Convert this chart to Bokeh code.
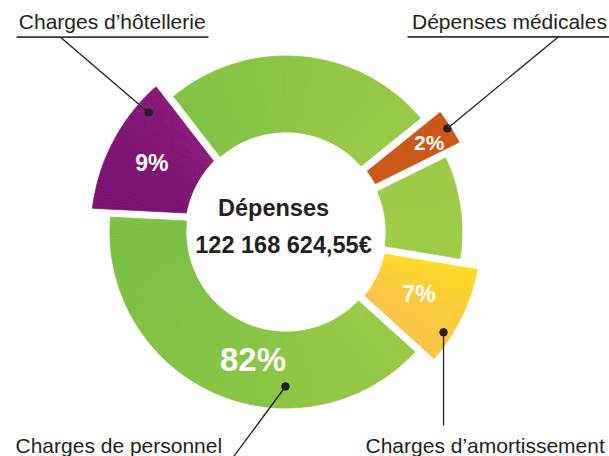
import numpy as np
from bokeh.plotting import figure
from bokeh.models import Range1d
from bokeh.embed import file_html
from bokeh.resources import INLINE
from bokeh.core.properties import value

# ---------------- data ----------------
categories = ["Charges de personnel", "Dépenses médicales",
              "Charges d’amortissement", "Charges d’hôtellerie"]
shares = [82, 2, 7, 9]                 # % of total expenses
share_labels = ["82%", "2%", "7%", "9%"]
centre_title = "Dépenses"
centre_total = "122 168 624,55€"

# ---------------- style ----------------
grad_from = ["#77bf43", "#dc661f", "#fdc24a", "#6b0a68"]
grad_to = ["#a1cc45", "#bb4610", "#fff200", "#931e7f"]
grad_dir = [0.0, 35.0, 30.0, 0.0]        # gradient direction (deg)
grad_gamma = [1.0, 1.0, 1.8, 1.0]
exploded = [False, True, True, True]
mid_angle = [None, 32.6, -25.8, 152.4]    # centre angle of the small slices
outer_flare = [None, 1.6, 2.1, 4.4]       # extra half-width at the rim (deg)
INK = "#231f20"
FONT = "Liberation Sans"
BASE_SHIFT = 0.355                        # renderer baseline correction (em)

# ---------------- layout ----------------
CX, CY = 285.5, 224.5
R_OUT, R_IN = 176.0, 100.0
X_OUT, X_IN = 195.0, 101.5
GAP = 8.0

# share label polar positions (angle, radius, font px)
share_pos = [(-104.5, 132.0, 33), (32.1, 169.0, 21), (-25.0, 146.7, 23), (152.6, 151.0, 23)]
# leader dot polar positions (angle, radius)
dot_pos = [(-90.2, 154.5), (32.7, 191.8), (-32.5, 186.8), (139.0, 182.2)]


def hex2rgb(h):
    h = h.lstrip("#")
    return np.array([int(h[i:i + 2], 16) for i in (0, 2, 4)], dtype=float)


def lerp_hex(a, b, t):
    c = hex2rgb(a) * (1 - t) + hex2rgb(b) * t
    return "#%02x%02x%02x" % tuple(int(round(v)) for v in c)


def pol(a, r):
    return np.array([CX + r * np.cos(np.radians(a)), CY + r * np.sin(np.radians(a))])


def band(o0, o1, i0, i1, r_out, r_in):
    """strips of a ring piece: outer arc o0->o1, inner arc i0->i1 (deg)"""
    n = max(2, int(np.ceil(abs(o1 - o0) / 1.0)))
    out = []
    for k in range(n):
        f0, f1 = k / n, (k + 1) / n
        oa = np.radians(np.linspace(o0 + (o1 - o0) * f0, o0 + (o1 - o0) * f1, 4))
        ia = np.radians(np.linspace(i0 + (i1 - i0) * f1, i0 + (i1 - i0) * f0, 4))
        xs = np.concatenate([CX + r_out * np.cos(oa), CX + r_in * np.cos(ia)])
        ys = np.concatenate([CY + r_out * np.sin(oa), CY + r_in * np.sin(ia)])
        out.append((xs, ys))
    return out


def edge_hit(p_in, p_out, offset, r):
    """angle where the edge line p_in->p_out, shifted by offset (ccw +), meets circle r"""
    d = (p_out - p_in) / np.linalg.norm(p_out - p_in)
    n = np.array([-d[1], d[0]])
    q = p_in + offset * n - np.array([CX, CY])
    b = q @ d
    t = -b + np.sqrt(b * b - q @ q + r * r)
    pt = q + t * d
    return np.degrees(np.arctan2(pt[1], pt[0]))


# small (exploded) slices
small = []
for i, s in enumerate(shares):
    if exploded[i]:
        hi = s * 1.8 + 0.6
        ho = s * 1.8 + outer_flare[i]
        small.append((mid_angle[i] - hi, i, hi, ho))
small.sort()

slice_polys = {i: [] for i in range(len(shares))}
edges = []
for _, i, hi, ho in small:
    m = mid_angle[i]
    slice_polys[i] += band(m - ho, m + ho, m - hi, m + hi, X_OUT, X_IN)
    start_edge = (pol(m - hi, X_IN), pol(m - ho, X_OUT))
    end_edge = (pol(m + hi, X_IN), pol(m + ho, X_OUT))
    edges.append((start_edge, end_edge))

big = [i for i in range(len(shares)) if not exploded[i]][0]
for k in range(len(edges)):
    e_a = edges[k][1]                      # end edge of previous small slice
    e_b = edges[(k + 1) % len(edges)][0]   # start edge of next small slice
    o0 = edge_hit(e_a[0], e_a[1], GAP, R_OUT)
    i0 = edge_hit(e_a[0], e_a[1], GAP, R_IN)
    o1 = edge_hit(e_b[0], e_b[1], -GAP, R_OUT)
    i1 = edge_hit(e_b[0], e_b[1], -GAP, R_IN)
    while o1 <= o0:
        o1 += 360
    while i1 <= i0:
        i1 += 360
    slice_polys[big] += band(o0, o1, i0, i1, R_OUT, R_IN)

xs_all, ys_all, cols = [], [], []
for i, polys in slice_polys.items():
    u = np.array([np.cos(np.radians(grad_dir[i])), np.sin(np.radians(grad_dir[i]))])
    proj = [np.mean(px) * u[0] + np.mean(py) * u[1] for px, py in polys]
    allp = np.concatenate([px * u[0] + py * u[1] for px, py in polys])
    lo, hi_ = allp.min(), allp.max()
    for (px, py), pr in zip(polys, proj):
        t = float(np.clip((pr - lo) / (hi_ - lo), 0, 1)) ** grad_gamma[i]
        xs_all.append(list(px))
        ys_all.append(list(py))
        cols.append(lerp_hex(grad_from[i], grad_to[i], t))

p = figure(width=609, height=456, x_range=Range1d(0, 609), y_range=Range1d(0, 456),
           output_backend="svg", toolbar_location=None, min_border=0,
           x_axis_location=None, y_axis_location=None)
p.grid.visible = False
p.outline_line_color = None
p.background_fill_color = "white"
p.border_fill_color = "white"

p.patches(xs_all, ys_all, fill_color=cols, line_color=cols, line_width=0.8)


def put_text(x, y_base, txt, fs, color, bold=False, align="left"):
    p.text([x], [y_base + BASE_SHIFT * fs], text=[txt], text_font=value(FONT),
           text_font_size=value(f"{fs}px"),
           text_font_style="bold" if bold else "normal",
           text_color=color, text_align=align, text_baseline="alphabetic")


# share labels (centred on their polar position)
for i, (ang, rad, fs) in enumerate(share_pos):
    x, y = pol(ang, rad)
    put_text(x, y - 0.358 * fs, share_labels[i], fs, "white", bold=True, align="center")

# centre texts
put_text(273, 240.3, centre_title, 23.5, INK, bold=True, align="center")
put_text(283, 203.3, centre_total, 23.5, INK, bold=True, align="center")

# leader dots
dots = [pol(a, r) for a, r in dot_pos]
dx = [d[0] for d in dots]
dy = [d[1] for d in dots]

# category labels (x, baseline y)
label_pos = [(15, 3.5), (411.5, 427.7), (365, 3.5), (18.3, 427.7)]
for i, (x, y) in enumerate(label_pos):
    put_text(x, y, categories[i], 21, INK)

# underlines of the upper labels
p.segment([16, 407], [419.3, 419.7], [208, 612], [419.3, 419.7],
          line_color="#3a3637", line_width=1.8)
# leader lines: from each dot to its label
end_pts = [(231, -3), (558, 419.7), (dx[2], 31), (60, 419.3)]
p.segment(dx, dy, [e[0] for e in end_pts], [e[1] for e in end_pts],
          line_color=INK, line_width=1.3)
p.scatter(dx, dy, size=7.5, color=INK)

open("out.html", "w").write(file_html(p, INLINE))
